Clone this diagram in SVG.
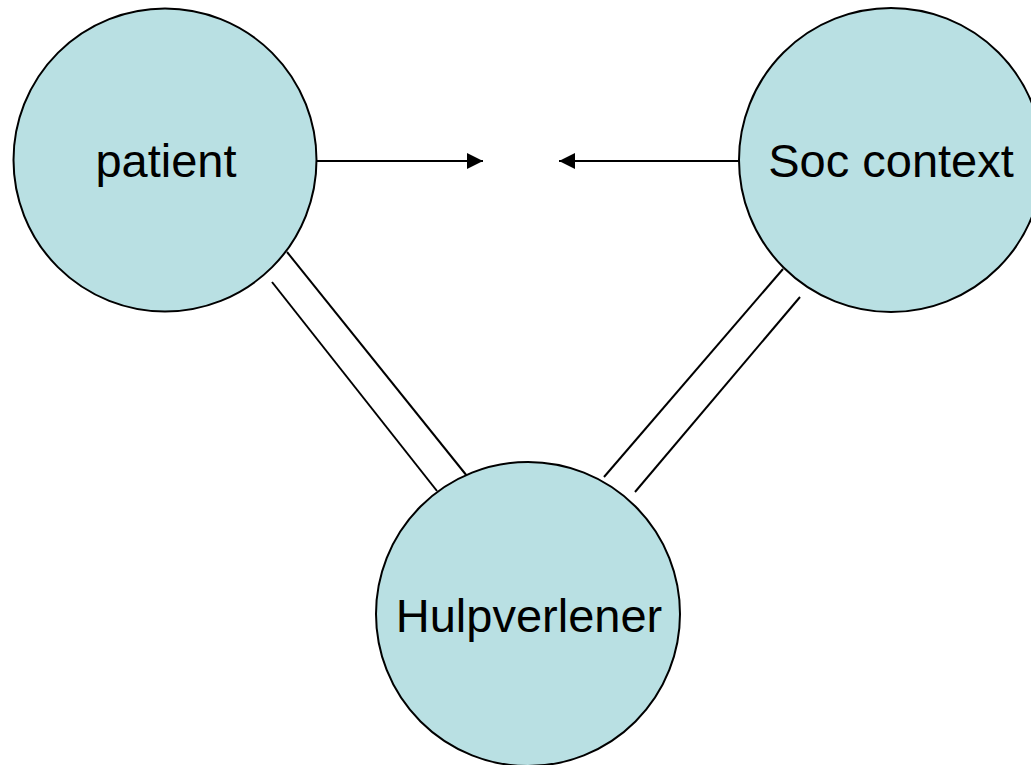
<svg xmlns="http://www.w3.org/2000/svg" width="1031" height="765" viewBox="0 0 1031 765">
<style>
.node{fill:#B9E0E3;stroke:#000;stroke-width:2}
.lbl{font-family:"Liberation Sans",Arial,sans-serif;font-size:47px;fill:#000;text-anchor:middle}
.edge{stroke:#000;stroke-width:2;fill:none}
</style>
<defs>
<marker id="ah" markerWidth="16" markerHeight="16" viewBox="0 0 16 16" refX="16" refY="8" orient="auto" markerUnits="userSpaceOnUse">
<path d="M0,0 L16,8 L0,16 Z" fill="#000"/>
</marker>
</defs>
<rect width="1031" height="765" fill="#fff"/>
<g id="connectors">
<line class="edge" x1="317" y1="161" x2="483" y2="161" marker-end="url(#ah)"/>
<line class="edge" x1="740" y1="161" x2="559" y2="161" marker-end="url(#ah)"/>
<line class="edge" x1="287" y1="252" x2="467" y2="476"/>
<line class="edge" x1="272" y1="282" x2="437" y2="491"/>
<line class="edge" x1="783" y1="269" x2="604" y2="477"/>
<line class="edge" x1="800" y1="297" x2="635" y2="492"/>
</g>
<g id="node-patient">
<circle class="node" cx="165" cy="160" r="151.5"/>
<text class="lbl" x="166" y="177">patient</text>
</g>
<g id="node-soc">
<circle class="node" cx="891" cy="160" r="152"/>
<text class="lbl" x="891" y="177">Soc context</text>
</g>
<g id="node-hulp">
<circle class="node" cx="528" cy="614" r="152"/>
<text class="lbl" x="529" y="632">Hulpverlener</text>
</g>
</svg>
